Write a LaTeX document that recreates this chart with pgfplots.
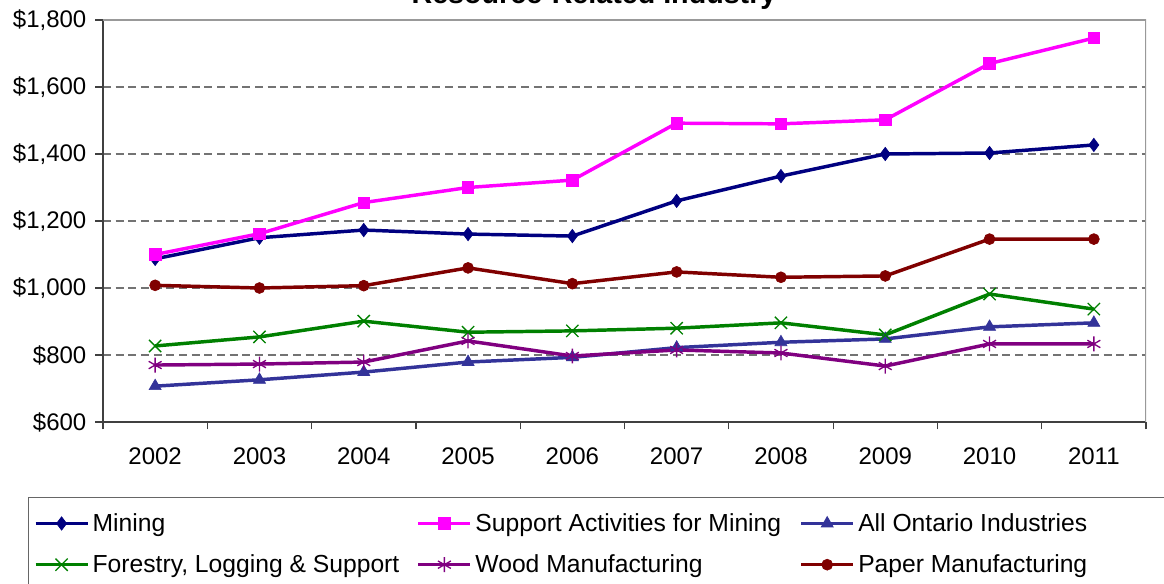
\documentclass[border=0pt]{standalone}
\usepackage{fontspec}
\setmainfont{Liberation Sans}
\usepackage{pgfplots}
\pgfplotsset{compat=1.18}
\definecolor{cMining}{HTML}{000080}
\definecolor{cSupport}{HTML}{FF00FF}
\definecolor{cOntario}{HTML}{333399}
\definecolor{cForest}{HTML}{008000}
\definecolor{cWood}{HTML}{800080}
\definecolor{cPaper}{HTML}{800000}
\begin{document}
\begin{tikzpicture}
\path[use as bounding box] (0,0) rectangle (873pt,437.25pt);
\node[font=\fontsize{21.5}{25}\selectfont\bfseries, anchor=base] at (445.5pt,434.25pt) {Resource-Related Industry};
\begin{axis}[
  at={(77.25pt,120.75pt)}, anchor=south west,
  scale only axis, width=782.25pt, height=301.5pt,
  xmin=2001.5, xmax=2011.5, ymin=600, ymax=1800,
  axis lines=left,
  axis line style={-, draw=black!75, line width=0.9pt},
  xtick={2002,2003,2004,2005,2006,2007,2008,2009,2010,2011},
  xticklabels={2002,2003,2004,2005,2006,2007,2008,2009,2010,2011},
  minor xtick={2001.5,2002.5,2003.5,2004.5,2005.5,2006.5,2007.5,2008.5,2009.5,2010.5,2011.5},
  major x tick style={draw=none},
  minor x tick style={draw=black!75, line width=0.9pt},
  minor tick length=5.5pt,
  major tick length=6pt,
  tick align=outside,
  ytick={600,800,1000,1200,1400,1600,1800},
  y tick style={draw=black!75, line width=0.9pt},
  yticklabel={\$\pgfmathprintnumber[1000 sep={,}]{\tick}},
  /pgf/number format/assume math mode=true,
  tick label style={font=\fontsize{18}{21}\selectfont, text=black},
  yticklabel style={xshift=-3pt},
  xticklabel style={yshift=-10pt},
  ymajorgrids,
  major grid style={draw=black!55, line width=0.8pt, dash pattern=on 6pt off 3.5pt},
  every axis plot/.append style={line width=2.6pt},
  legend image code/.code={\draw[mark repeat=2,mark phase=2] plot coordinates {(0pt,0pt) (19.5pt,0pt) (39pt,0pt)};},
  legend columns=3,
  legend cell align=left,
  legend style={at={(axis description cs:-0.0719,-0.1866)}, anchor=north west,
    draw=black!60, line width=0.8pt, fill=white,
    font=\fontsize{18.5}{21}\selectfont,
    inner xsep=4pt, inner ysep=10pt, row sep=12pt, column sep=0pt,
    /tikz/every odd column/.append style={column sep=0.5pt}},
]
\addplot[color=cMining, mark=diamond*, mark size=5pt, mark options={solid, line width=0.5pt}] coordinates {
 (2002,1087) (2003,1150) (2004,1173) (2005,1161) (2006,1155) (2007,1260) (2008,1334) (2009,1400) (2010,1403) (2011,1427)};
\addlegendentry{\makebox[241pt][l]{Mining}}
\addplot[color=cSupport, mark=square*, mark size=4.3pt, mark options={solid, line width=0.5pt}] coordinates {
 (2002,1100) (2003,1162) (2004,1255) (2005,1300) (2006,1322) (2007,1492) (2008,1490) (2009,1502) (2010,1670) (2011,1746)};
\addlegendentry{\makebox[241pt][l]{Support Activities for Mining}}
\addplot[color=cOntario, mark=triangle*, mark size=5.2pt, mark options={solid, line width=0.5pt}] coordinates {
 (2002,707) (2003,726) (2004,749) (2005,779) (2006,793) (2007,822) (2008,838) (2009,848) (2010,884) (2011,896)};
\addlegendentry{\makebox[241pt][l]{All Ontario Industries}}
\addplot[color=cForest, mark=x, mark size=6.5pt, mark options={solid, line width=1pt}] coordinates {
 (2002,827) (2003,854) (2004,901) (2005,868) (2006,872) (2007,880) (2008,896) (2009,860) (2010,982) (2011,937)};
\addlegendentry{\makebox[241pt][l]{Forestry, Logging \& Support}}
\addplot[color=cWood, mark=asterisk, mark size=5.6pt, mark options={solid, line width=1pt}] coordinates {
 (2002,770) (2003,773) (2004,779) (2005,842) (2006,797) (2007,815) (2008,806) (2009,767) (2010,833) (2011,833)};
\addlegendentry{\makebox[241pt][l]{Wood Manufacturing}}
\addplot[color=cPaper, mark=*, mark size=4.1pt, mark options={solid, line width=0.5pt}] coordinates {
 (2002,1008) (2003,1000) (2004,1007) (2005,1060) (2006,1013) (2007,1048) (2008,1032) (2009,1036) (2010,1146) (2011,1146)};
\addlegendentry{\makebox[241pt][l]{Paper Manufacturing}}
\draw[draw=black!40, line width=1.1pt] (rel axis cs:0,1) -- (rel axis cs:1,1) -- (rel axis cs:1,0);
\end{axis}
\end{tikzpicture}
\end{document}
